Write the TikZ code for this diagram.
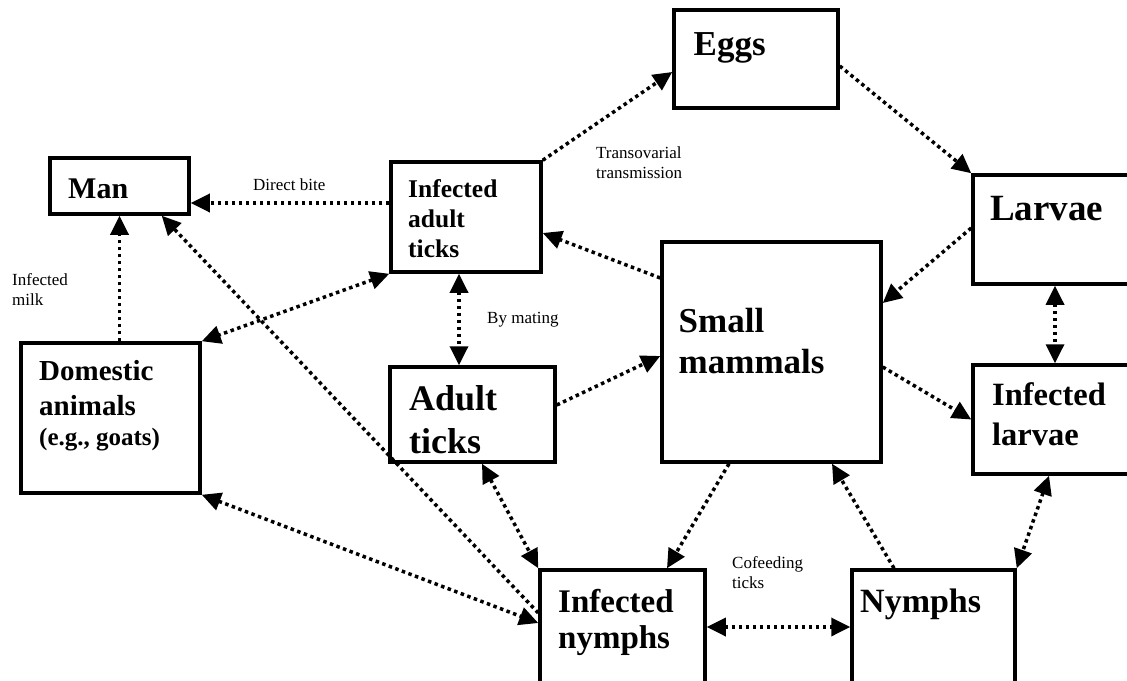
\documentclass[tikz,border=0pt]{standalone}
\usepackage{fontspec}
\setmainfont{Liberation Serif}
\usetikzlibrary{arrows.meta}

\tikzset{
  box/.style={draw, line width=3.5pt, inner sep=0pt},
  boxtext/.style={anchor=base west, inner sep=0pt, align=left},
  note/.style={anchor=base west, inner sep=0pt, align=left,
               font=\fontsize{17}{19.5}\selectfont},
  flow/.style={line width=3.5pt, dash pattern=on 3.5pt off 3.5pt},
}

\begin{document}
\begin{tikzpicture}[x=1pt, y=-1pt, >={Triangle[length=19pt,width=18pt]}]
  \useasboundingbox (0,0) rectangle (1127,680);

  % Boxes (centre, size in px of the reference)
  \node[box, minimum width=139pt, minimum height=56pt]  (man)    at (119.5,186) {};
  \node[box, minimum width=150pt, minimum height=110pt] (iat)    at (466,217) {};
  \node[box, minimum width=179pt, minimum height=150pt] (dom)    at (110.5,418) {};
  \node[box, minimum width=165pt, minimum height=95pt]  (adult)  at (472.5,414.5) {};
  \node[box, minimum width=164pt, minimum height=98pt]  (eggs)   at (756,59) {};
  \node[box, minimum width=157pt, minimum height=109pt] (larvae) at (1051.5,229.5) {};
  \node[box, minimum width=219pt, minimum height=220pt] (sm)     at (771.5,352) {};
  \node[box, minimum width=157pt, minimum height=109pt] (il)     at (1051.5,419.5) {};
  \node[box, minimum width=165pt, minimum height=114pt] (inn)    at (622.5,627) {};
  \node[box, minimum width=163pt, minimum height=114pt] (nym)    at (933.5,627) {};

  % Box texts (multi-line: placed by the last baseline)
  \node[boxtext, font=\fontsize{30}{36}\selectfont\bfseries] (manT) at (68,198) {Man};
  \node[boxtext, font=\fontsize{25.5}{30}\selectfont\bfseries] (iatT) at (408,257)
    {Infected\\adult\\ticks};
  \node[boxtext, font=\fontsize{29}{35}\selectfont\bfseries] (domT) at (39,445)
    {Domestic\\animals\\[-5pt]{\fontsize{25}{30}\selectfont (e.g., goats)}};
  \node[boxtext, font=\fontsize{35}{42}\selectfont\bfseries] (eggsT) at (693.5,55) {Eggs};
  \node[boxtext, font=\fontsize{37}{44}\selectfont\bfseries] (larvaeT) at (990,220) {Larvae};
  \node[boxtext, font=\fontsize{35}{41}\selectfont\bfseries] (smT) at (678.5,373)
    {Small\\mammals};
  \node[boxtext, font=\fontsize{36}{43}\selectfont\bfseries] (adultT) at (409,453)
    {Adult\\ticks};
  \node[boxtext, font=\fontsize{32.5}{40}\selectfont\bfseries] (ilT) at (992,445)
    {Infected\\larvae};
  \node[boxtext, font=\fontsize{33}{36}\selectfont\bfseries] (innT) at (558,648)
    {Infected\\nymphs};
  \node[boxtext, font=\fontsize{34}{40}\selectfont\bfseries] (nymT) at (860,612) {Nymphs};

  % Connector labels
  \node[note] (biteT)   at (253,190) {Direct bite};
  \node[note] (milkT)   at (12,305)  {Infected\\milk};
  \node[note] (matingT) at (487,323) {By mating};
  \node[note] (transT)  at (596,178) {Transovarial\\transmission};
  \node[note] (cofeedT) at (732,588) {Cofeeding\\ticks};

  % Left part
  \draw[flow, ->] ([yshift=14pt]iat.west) -- ([yshift=-17pt]man.east);
  \draw[flow, ->] (man.south |- dom.north) -- (man.south);
  \draw[flow, <->] (iat.south west) -- (dom.north east);
  \draw[flow, ->] ([yshift=14pt]inn.west) -- ([xshift=-29pt]man.south east);
  \draw[flow, <->] (dom.south east) -- ([yshift=4pt]inn.west);
  \draw[flow, <->] ([xshift=9.5pt]adult.south) -- (inn.north west);
  \draw[flow, <->] ([xshift=-7pt]iat.south) -- ([xshift=-7pt]iat.south |- adult.north);

  % Upper cycle
  \draw[flow, ->] (iat.north east) -- ([yshift=-13pt]eggs.west);
  \draw[flow, ->] ([yshift=-7pt]eggs.east) -- (larvae.north west);
  \draw[flow, ->] ([yshift=1.5pt]larvae.west) -- ([yshift=49pt]sm.east);
  \draw[flow, ->] ([yshift=74pt]sm.west) -- ([yshift=-16pt]iat.east);
  \draw[flow, ->] ([yshift=9.5pt]adult.east) -- ([yshift=-4pt]sm.west);

  % Right and lower part
  \draw[flow, ->] ([yshift=-15pt]sm.east) -- (il.west);
  \draw[flow, <->] ([xshift=3.5pt]larvae.south) -- ([xshift=3.5pt]il.north);
  \draw[flow, ->] ([xshift=-42.5pt]sm.south) -- ([xshift=44.5pt]inn.north);
  \draw[flow, ->] ([xshift=-39.5pt]nym.north) -- ([xshift=60.5pt]sm.south);
  \draw[flow, <->] (inn.east) -- (nym.west);
  \draw[flow, <->] ([xshift=-2.5pt]il.south) -- (nym.north east);
\end{tikzpicture}
\end{document}
